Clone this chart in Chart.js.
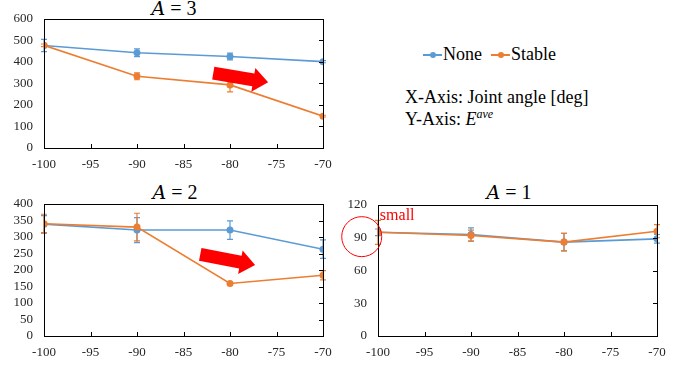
<!DOCTYPE html>
<html>
<head>
<meta charset="utf-8">
<script src="https://cdn.jsdelivr.net/npm/chart.js@4.4.1/dist/chart.umd.min.js"></script>
<style>
    body { margin: 0; background: #fff; font-family: "Liberation Serif", serif; }
    #page { position: relative; width: 688px; height: 366px; overflow: hidden; }
    .box { position: absolute; }
    .ttl { position: absolute; font-size: 20px; color: #000; white-space: nowrap; transform: translateX(-50%); }
    .ttl i { font-family: "DejaVu Serif", serif; font-size: 19px; }
    .legend { position: absolute; left: 423px; top: 44px; font-size: 18px; white-space: nowrap; }
    .mk { display: inline-block; position: relative; width: 19px; height: 10px; margin-right: 1px; }
    .mk:before { content: ""; position: absolute; left: 0; right: 0; top: 4px; height: 2px; background: var(--c); }
    .mk:after { content: ""; position: absolute; left: 7px; top: 2px; width: 6px; height: 6px; border-radius: 50%; background: var(--c); }
    .note { position: absolute; left: 405px; font-size: 18px; white-space: nowrap; }
</style>
</head>
<body>
<div id="page">
    <div class="ttl" style="left:174px; top:-3px;"><i>A</i> = 3</div>
    <div class="ttl" style="left:175px; top:181px;"><i>A</i> = 2</div>
    <div class="ttl" style="left:509px; top:181px;"><i>A</i> = 1</div>

    <div class="legend">
        <span class="mk" style="--c:#5B9BD5"></span>None&nbsp;
        <span class="mk" style="--c:#ED7D31"></span>Stable
    </div>
    <div class="note" style="top:87px;">X-Axis: Joint angle [deg]</div>
    <div class="note" style="top:107px;">Y-Axis: <i>E<sup style="font-size:12px;">ave</sup></i></div>

    <div class="box" style="left:0; top:0;"><canvas id="c3" width="345" height="176"></canvas></div>
    <div class="box" style="left:0; top:180px;"><canvas id="c2" width="345" height="186"></canvas></div>
    <div class="box" style="left:340px; top:180px;"><canvas id="c1" width="348" height="186"></canvas></div>
</div>

<script>
// joint angles on the x axis
var angles = [-100, -90, -80, -70];

// A = 3
var a3None = [476, 442, 425, 401];
var a3NoneErr = [28, 18, 16, 5];
var a3Stable = [477, 333, 293, 148];
var a3StableErr = [6, 16, 32, 4];

// A = 2
var a2None = [339, 321, 321, 263];
var a2NoneErr = [26, 38, 28, 28];
var a2Stable = [340, 330, 159, 184];
var a2StableErr = [29, 42, 4, 14];

// A = 1
var a1None = [95, 93, 86, 89];
var a1NoneErr = [3, 6, 8, 4];
var a1Stable = [95, 92, 86, 96];
var a1StableErr = [11, 5, 8, 6];

var BLUE = "#5B9BD5";
var ORANGE = "#ED7D31";
var FONT = "'Liberation Serif', serif";

function pts(vals) {
    var out = [];
    for (var i = 0; i < angles.length; i++) {
        out.push({x: angles[i], y: vals[i]});
    }
    return out;
}

function series(label, vals, errs, color, order) {
    return {
        label: label,
        data: pts(vals),
        errors: errs,
        borderColor: color,
        backgroundColor: color,
        borderWidth: 1.6,
        pointRadius: 3.5,
        pointBorderWidth: 0,
        pointHoverRadius: 3.5,
        order: order,
        tension: 0
    };
}

// vertical error bars, drawn under the lines
var errorBars = {
    id: "errorBars",
    beforeDatasetsDraw: function (chart) {
        var ctx = chart.ctx;
        var ys = chart.scales.y;
        chart.data.datasets.forEach(function (ds, di) {
            var meta = chart.getDatasetMeta(di);
            ctx.save();
            ctx.strokeStyle = ds.borderColor;
            ctx.lineWidth = 1.2;
            meta.data.forEach(function (p, i) {
                var v = ds.data[i].y, e = ds.errors[i];
                var top = ys.getPixelForValue(v + e);
                var bot = ys.getPixelForValue(v - e);
                ctx.beginPath();
                ctx.moveTo(p.x, top); ctx.lineTo(p.x, bot);
                ctx.moveTo(p.x - 3, top); ctx.lineTo(p.x + 3, top);
                ctx.moveTo(p.x - 3, bot); ctx.lineTo(p.x + 3, bot);
                ctx.stroke();
            });
            ctx.restore();
        });
    }
};

// black box round the plot area, small ticks pointing inward
var frame = {
    id: "frame",
    afterDraw: function (chart) {
        var a = chart.chartArea, ctx = chart.ctx;
        var xs = chart.scales.x, ys = chart.scales.y;
        ctx.save();
        ctx.strokeStyle = "#000";
        ctx.lineWidth = 1;
        ctx.strokeRect(Math.round(a.left) + 0.5, Math.round(a.top) + 0.5,
            Math.round(a.right - a.left), Math.round(a.bottom - a.top));
        ctx.beginPath();
        xs.ticks.forEach(function (t) {
            var x = Math.round(xs.getPixelForValue(t.value)) + 0.5;
            ctx.moveTo(x, a.bottom); ctx.lineTo(x, a.bottom - 4);
        });
        ys.ticks.forEach(function (t) {
            var y = Math.round(ys.getPixelForValue(t.value)) + 0.5;
            ctx.moveTo(a.right, y); ctx.lineTo(a.right - 4, y);
        });
        ctx.stroke();
        ctx.restore();
    }
};

// red notes: arrows, circle and text placed in data units
var notes = {
    id: "notes",
    afterDraw: function (chart) {
        var opts = chart.options.plugins.notes || {};
        var ctx = chart.ctx, xs = chart.scales.x, ys = chart.scales.y;
        ctx.save();
        (opts.arrows || []).forEach(function (ar) {
            var x0 = xs.getPixelForValue(ar[0]), y0 = ys.getPixelForValue(ar[1]);
            var x1 = xs.getPixelForValue(ar[2]), y1 = ys.getPixelForValue(ar[3]);
            var ang = Math.atan2(y1 - y0, x1 - x0);
            var len = Math.sqrt((x1 - x0) * (x1 - x0) + (y1 - y0) * (y1 - y0));
            var bw = 6.5, hw = 12, hl = 15;
            ctx.translate(x0, y0);
            ctx.rotate(ang);
            ctx.beginPath();
            ctx.moveTo(0, -bw);
            ctx.lineTo(len - hl, -bw);
            ctx.lineTo(len - hl, -hw);
            ctx.lineTo(len, 0);
            ctx.lineTo(len - hl, hw);
            ctx.lineTo(len - hl, bw);
            ctx.lineTo(0, bw);
            ctx.closePath();
            ctx.fillStyle = "#FF0000";
            ctx.fill();
            ctx.setTransform(1, 0, 0, 1, 0, 0);
        });
        if (opts.circle) {
            var c = opts.circle;
            ctx.beginPath();
            ctx.arc(xs.getPixelForValue(c[0]), ys.getPixelForValue(c[1]), c[2], 0, Math.PI * 2);
            ctx.strokeStyle = "#FF0000";
            ctx.lineWidth = 1;
            ctx.stroke();
        }
        if (opts.text) {
            var t = opts.text;
            ctx.fillStyle = "#FF0000";
            ctx.font = "16px " + FONT;
            ctx.textBaseline = "middle";
            ctx.fillText(t[2], xs.getPixelForValue(t[0]), ys.getPixelForValue(t[1]));
        }
        ctx.restore();
    }
};

function makeChart(id, noneVals, noneErr, stableVals, stableErr, yMax, yStep, box, noteOpts) {
    var ctx = document.getElementById(id).getContext("2d");
    return new Chart(ctx, {
        type: "line",
        data: {
            datasets: [
                series("None", noneVals, noneErr, BLUE, 1),
                series("Stable", stableVals, stableErr, ORANGE, 0)
            ]
        },
        options: {
            responsive: false,
            animation: false,
            layout: { padding: { left: 0, top: box.top, right: box.right, bottom: 0 } },
            plugins: {
                legend: { display: false },
                tooltip: { enabled: false },
                notes: noteOpts
            },
            scales: {
                x: {
                    type: "linear",
                    min: -100,
                    max: -70,
                    afterFit: function (s) { s.height = box.xh; },
                    grid: { display: false, drawTicks: false },
                    border: { display: false },
                    ticks: { stepSize: 5, padding: box.xpad, color: "#262626", font: { family: FONT, size: 13 } }
                },
                y: {
                    min: 0,
                    max: yMax,
                    afterFit: function (s) { s.width = box.yw; },
                    grid: { display: false, drawTicks: false },
                    border: { display: false },
                    ticks: { stepSize: yStep, autoSkip: false, padding: 11, color: "#262626", font: { family: FONT, size: 13 } }
                }
            }
        },
        plugins: [errorBars, frame, notes]
    });
}

makeChart("c3", a3None, a3NoneErr, a3Stable, a3StableErr, 600, 100,
    {top: 18, right: 22, xh: 28, yw: 44, xpad: 9},
    {arrows: [[-81.8, 348, -75.9, 305]]});

makeChart("c2", a2None, a2NoneErr, a2Stable, a2StableErr, 400, 50,
    {top: 24, right: 22, xh: 30, yw: 44, xpad: 9},
    {arrows: [[-83.2, 247, -77.3, 215]]});

makeChart("c1", a1None, a1NoneErr, a1Stable, a1StableErr, 120, 30,
    {top: 25, right: 31, xh: 30, yw: 38, xpad: 9},
    {circle: [-101.75, 91, 20], text: [-99.8, 110, "small"]});
</script>
</body>
</html>
